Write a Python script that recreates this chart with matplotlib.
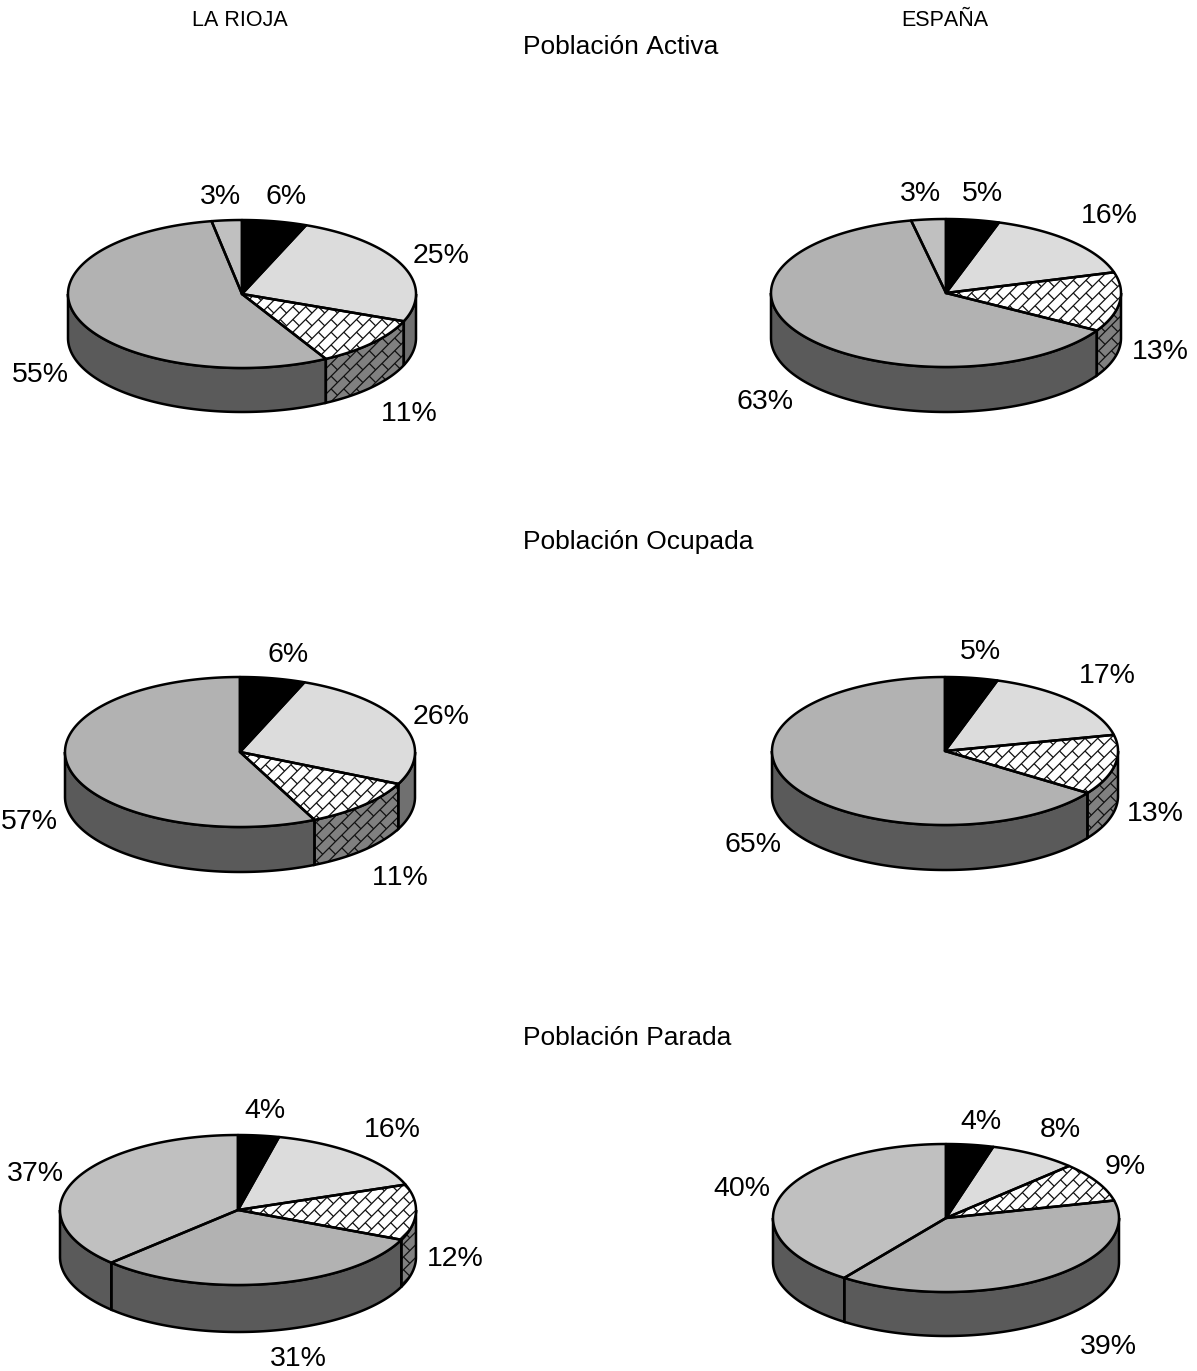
import numpy as np
import matplotlib
matplotlib.use('Agg')
import matplotlib.pyplot as plt
from matplotlib.patches import Polygon
from matplotlib.collections import LineCollection

plt.rcParams['font.family'] = ['Liberation Sans', 'DejaVu Sans']
plt.rcParams['text.kerning_factor'] = 20  # the reference text has no kerning

# percentages, clockwise from the top (read from the slice edges, labels are rounded)
rioja_activa = [6, 25, 11, 55.2, 2.8]
espana_activa = [4.9, 15.6, 13, 63.4, 3.2]
rioja_ocupada = [6, 26, 11, 57]
espana_ocupada = [4.9, 16.6, 13.1, 65.4]
rioja_parada = [3.7, 15.8, 12, 31.1, 37.4]
espana_parada = [4.4, 8.2, 8.6, 38.8, 40]

top_colors = ['#000000', '#dcdcdc', '#ffffff', '#b2b2b2', '#c0c0c0']
side_colors = ['#000000', '#707070', '#808080', '#5a5a5a', '#5a5a5a']
BRICK = 2

# centre x, centre y, rx, ry, depth, then label centres per slice
pies = [
    (rioja_activa, 242, 294, 174, 74, 44,
     [(286, 195), (441, 254), (409, 412), (40, 373), (220, 195)]),
    (espana_activa, 946, 293, 175, 74, 45,
     [(982, 192), (1109, 214), (1160, 350), (765, 400), (920, 192)]),
    (rioja_ocupada, 240, 752, 175, 75, 45,
     [(288, 653), (441, 715), (400, 876), (29, 820)]),
    (espana_ocupada, 945, 751, 173, 74, 45,
     [(980, 650), (1107, 674), (1155, 812), (753, 843)]),
    (rioja_parada, 238, 1210, 178, 75, 47,
     [(265, 1109), (392, 1128), (455, 1257), (298, 1357), (35, 1172)]),
    (espana_parada, 946, 1218, 173, 74, 44,
     [(981, 1120), (1060, 1128), (1125, 1165), (1108, 1345), (742, 1187)]),
]

fig = plt.figure(figsize=(11.97, 13.71), dpi=100)
ax = fig.add_axes([0, 0, 1, 1])
ax.set_xlim(0, 1197)
ax.set_ylim(1371, 0)
ax.axis('off')

LW = 1.8


def rim(cx, cy, rx, ry, t):
    return cx + rx * np.sin(t), cy - ry * np.cos(t)


def brick_fill(patch, cx, cy, z):
    # diagonal brick pattern, clipped to the patch
    s = 9.0
    segs = []
    d = np.array([1, -1]) / np.sqrt(2)
    n = np.array([1, 1]) / np.sqrt(2)
    o = np.array([cx, cy])
    for k in range(-30, 30):
        a = o + n * k * s
        segs.append([a - d * 300, a + d * 300])
        for j in range(-20, 20):
            p = a + d * (j + 0.5 * (k % 2)) * 2 * s
            segs.append([p, p + n * s])
    lc = LineCollection(segs, colors='#111111', linewidths=0.9, zorder=z)
    ax.add_collection(lc)
    lc.set_clip_path(patch)


for values, cx, cy, rx, ry, depth, label_pos in pies:
    bounds = np.cumsum([0] + values) / sum(values) * 2 * np.pi

    # side wall first, only the front half shows
    for i in range(len(values)):
        t0 = max(bounds[i], np.pi / 2)
        t1 = min(bounds[i + 1], 3 * np.pi / 2)
        if t1 <= t0:
            continue
        t = np.linspace(t0, t1, 120)
        x, y = rim(cx, cy, rx, ry, t)
        pts = np.r_[np.c_[x, y], np.c_[x, y + depth][::-1]]
        side = Polygon(pts, closed=True, fc=side_colors[i], ec='none', zorder=2)
        ax.add_patch(side)
        if i == BRICK:
            brick_fill(side, cx, cy + depth, 2.5)
        ax.add_patch(Polygon(pts, closed=True, fc='none', ec='black', lw=LW, zorder=3))

    # top face
    for i in range(len(values)):
        t = np.linspace(bounds[i], bounds[i + 1], 200)
        x, y = rim(cx, cy, rx, ry, t)
        pts = np.r_[[[cx, cy]], np.c_[x, y]]
        top = Polygon(pts, closed=True, fc=top_colors[i], ec='none', zorder=4)
        ax.add_patch(top)
        if i == BRICK:
            brick_fill(top, cx, cy, 4.5)
    for i in range(len(values)):
        t = np.linspace(bounds[i], bounds[i + 1], 200)
        x, y = rim(cx, cy, rx, ry, t)
        pts = np.r_[[[cx, cy]], np.c_[x, y]]
        ax.add_patch(Polygon(pts, closed=True, fc='none', ec='black', lw=LW,
                             joinstyle='round', zorder=5))

    for v, (lx, ly) in zip(values, label_pos):
        ax.text(lx, ly + 2, f'{v:.0f}%', fontsize=20.5, ha='center', va='center')

ax.text(240, 20, 'LA RIOJA', fontsize=15.5, ha='center', va='center')
ax.text(945, 20, 'ESPAÑA', fontsize=15.5, ha='center', va='center')
ax.text(523, 47, 'Población Activa', fontsize=19, ha='left', va='center')
ax.text(523, 542, 'Población Ocupada', fontsize=19, ha='left', va='center')
ax.text(523, 1038, 'Población Parada', fontsize=19, ha='left', va='center')

fig.savefig('out.png', dpi=100, facecolor='white')
